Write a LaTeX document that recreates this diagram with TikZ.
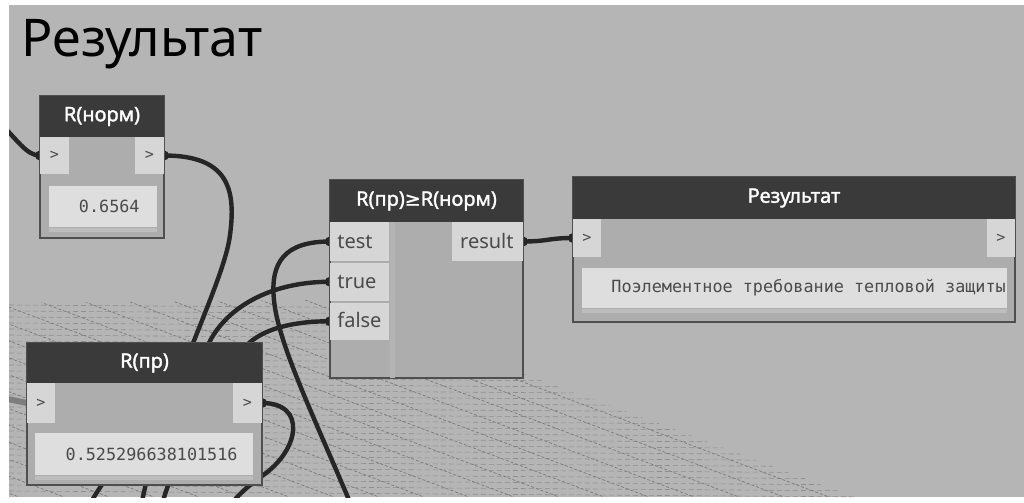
\documentclass[tikz,border=0pt]{standalone}
\usepackage{fontspec}
\usepackage{graphicx}
\setmainfont{Noto Sans}
\newfontfamily\headfont[FakeBold=1.6]{Noto Sans}
\newfontfamily\headsym[FakeBold=1.2]{DejaVu Sans}
\newfontfamily\monofont{DejaVu Sans Mono}
\definecolor{canvas}{HTML}{B5B5B5}
\definecolor{bodyfill}{HTML}{ADADAD}
\definecolor{bodyedge}{HTML}{4F4F4F}
\definecolor{headfill}{HTML}{3A3A3A}
\definecolor{portfill}{HTML}{D6D6D6}
\definecolor{valfill}{HTML}{DEDEDE}
\definecolor{stripfill}{HTML}{BDBDBD}
\definecolor{sepfill}{HTML}{B4B4B4}
\definecolor{wirecol}{HTML}{262626}
\definecolor{greywire}{HTML}{7E7E7E}
\definecolor{labelcol}{HTML}{4A4A4A}
\definecolor{gridcol}{HTML}{8E8E8E}
\pgfdeclarelayer{ground}
\pgfdeclarelayer{wires}
\pgfsetlayers{ground,wires,main}

\begin{document}
\begin{tikzpicture}[x=0.5pt,y=-0.5pt,
  box/.style={anchor=north west, inner sep=0pt, outer sep=0pt},
  body/.style={box, draw=bodyedge, line width=0.6pt, fill=bodyfill},
  head/.style={box, fill=headfill},
  port/.style={box, fill=portfill},
  valbox/.style={box, fill=valfill},
  headtext/.style={text=white, font=\headfont\fontsize{10pt}{12pt}\selectfont, inner sep=0pt},
  plabel/.style={text=labelcol, font=\fontsize{10pt}{12pt}\selectfont, inner sep=0pt},
  arrowmark/.style={text=labelcol, font=\monofont\fontsize{7.5pt}{9pt}\selectfont, inner sep=0pt},
  valtext/.style={text=labelcol, font=\monofont\fontsize{8.4pt}{10pt}\selectfont, inner sep=0pt},
  wire/.style={draw=wirecol, line width=2.2pt},
  blob/.style={fill=wirecol},
  rowline/.style={draw=gridcol, line width=0.3pt, dash pattern=on 2.5pt off 1.5pt},
  colline/.style={draw=gridcol!85!black, line width=0.35pt, dash pattern=on 1.5pt off 1pt},
]
\useasboundingbox (0,0) rectangle (1024,503);

% canvas and the perspective ground grid of the 3D background
\begin{pgfonlayer}{ground}
  \fill[white] (0,0) rectangle (1024,503);
  \fill[canvas] (9,5) rectangle (1024,497);
  \begin{scope}
    \clip (9,303) -- (330,300) -- (854,497) -- (9,497) -- cycle;
    \foreach \yy in {305,311,...,496}
      \draw[rowline] (9,\yy) -- (880,\yy+6);
    \foreach \xx in {-640,-595,...,330}
      \draw[colline] (\xx,300) -- ++(524,197);
  \end{scope}
\end{pgfonlayer}

% ---- R(норм) ----
\node[body, minimum width=62pt, minimum height=71pt] (rn) at (40,96) {};
\node[head, minimum width=62pt, minimum height=20.5pt] (rn-head) at (40,96) {};
\node[headtext] (rn-title) at (rn-head.center) {R(норм)};
\node[port, minimum width=14.5pt, minimum height=18.5pt] (rn-in) at (40,137) {};
\node[arrowmark] (rn-in-m) at (rn-in.center) {>};
\node[port, minimum width=14.5pt, minimum height=18.5pt] (rn-out) at (135,137) {};
\node[arrowmark] (rn-out-m) at (rn-out.center) {>};
\node[valbox, minimum width=54pt, minimum height=20.5pt] (rn-val) at (49,186) {};
\fill[stripfill] (49,228) rectangle (157,232);
\node[valtext, anchor=east] (rn-valtext) at ([xshift=-8.5pt]rn-val.east) {0.6564};

% ---- R(пр) ----
\node[body, minimum width=117.5pt, minimum height=71pt] (rp) at (27,343) {};
\node[head, minimum width=117.5pt, minimum height=20pt] (rp-head) at (27,343) {};
\node[headtext] (rp-title) at (rp-head.center) {R(пр)};
\node[port, minimum width=14pt, minimum height=20pt] (rp-in) at (27,383) {};
\node[arrowmark] (rp-in-m) at (rp-in.center) {>};
\node[port, minimum width=14.5pt, minimum height=20pt] (rp-out) at (233,383) {};
\node[arrowmark] (rp-out-m) at (rp-out.center) {>};
\node[valbox, minimum width=109pt, minimum height=21pt] (rp-val) at (35,433) {};
\fill[stripfill] (35,476) rectangle (253,480);
\node[valtext, anchor=east] (rp-valtext) at ([xshift=-7.5pt]rp-val.east) {0.525296638101516};

% ---- R(пр)≥R(норм) ----
\node[body, minimum width=96.5pt, minimum height=99pt] (cmp) at (330,180) {};
\fill[sepfill] (390,222) rectangle (395,377.5);
\node[head, minimum width=96.5pt, minimum height=21pt] (cmp-head) at (330,180) {};
\node[headtext] (cmp-title) at (cmp-head.center) {R(пр){\headsym\fontsize{9.5pt}{12pt}\selectfont ≥}R(норм)};
\node[port, minimum width=29.5pt, minimum height=19.5pt] (cmp-test) at (330,222) {};
\node[port, minimum width=29.5pt, minimum height=19.25pt] (cmp-true) at (330,262.5) {};
\node[port, minimum width=29.5pt, minimum height=18.75pt] (cmp-false) at (330,302.5) {};
\node[port, minimum width=35.5pt, minimum height=19.5pt] (cmp-res) at (452,222) {};
\node[plabel, anchor=base west] (lbl-test) at (337,248) {test};
\node[plabel, anchor=base west] (lbl-true) at (337,288) {true};
\node[plabel, anchor=base west] (lbl-false) at (337,327) {false};
\node[plabel, anchor=base east] (lbl-result) at (514,248) {result};

% ---- Результат ----
\node[body, minimum width=221pt, minimum height=72.5pt] (res) at (573,177) {};
\node[head, minimum width=221pt, minimum height=21pt] (res-head) at (573,177) {};
\node[headtext] (res-title) at (res-head.center) {Результат};
\node[port, minimum width=14pt, minimum height=19pt] (res-in) at (573,219) {};
\node[arrowmark] (res-in-m) at (res-in.center) {>};
\node[port, minimum width=14pt, minimum height=19pt] (res-out) at (987,219) {};
\node[arrowmark] (res-out-m) at (res-out.center) {>};
\node[valbox, minimum width=212.5pt, minimum height=20pt] (res-val) at (582,268) {};
\fill[stripfill] (582,309) rectangle (1007,313);
\node[valtext, anchor=west] (res-valtext) at (611,288) {Поэлементное требование тепловой защиты};

% sheet title
\node[anchor=base west, inner sep=0pt, font=\fontsize{26pt}{30pt}\selectfont] (sheet-title) at (21,56) {Результат};

% ---- wires, behind the nodes ----
\coordinate (w1s) at (-5,118);
\coordinate (w2m) at (230,235);
\coordinate (w2e) at (140,512);
\coordinate (w3m) at (274,300);
\coordinate (w3e) at (354,512);
\coordinate (w4m) at (208,345);
\coordinate (w4e) at (86,512);
\coordinate (w5m) at (247,345);
\coordinate (w5e) at (160,512);
\coordinate (w6m) at (262,476);
\coordinate (w6e) at (226,512);
\coordinate (w8s) at (-5,397);

\begin{pgfonlayer}{wires}
  \begin{scope}
    \clip (9,5) rectangle (1024,497);
    \draw[greywire, line width=3pt] (w8s) .. controls (8,399) .. (rp-in.west);
    \draw[wire] (w1s) .. controls (18,140) and (26,155.5) .. (rn-in.west);
    \draw[wire] (rn-out.east) .. controls +(65,0) and (236,190) .. (w2m)
                .. controls (224,285) and (160,400) .. (w2e);
    \draw[wire] (cmp-test.west) .. controls +(-45,0) and (270,262) .. (w3m)
                .. controls (278,345) and (318,425) .. (w3e);
    \draw[wire] (cmp-true.west) .. controls +(-60,0) and (225,308) .. (w4m)
                .. controls (190,385) and (110,460) .. (w4e);
    \draw[wire] (cmp-false.west) .. controls +(-40,0) and (262,330) .. (w5m)
                .. controls (225,370) and (175,450) .. (w5e);
    \draw[wire] (rp-out.east) .. controls +(45,0) and (300,450) .. (w6m)
                .. controls (250,485) and (236,495) .. (w6e);
    \draw[wire] (cmp-res.east) .. controls +(25,0) and +(-25,0) .. (res-in.west);
    \foreach \p in {rn-in.west, rn-out.east, cmp-test.west, cmp-true.west,
                    cmp-false.west, cmp-res.east, res-in.west, rp-out.east}
      \fill[blob] (\p) circle (5);
  \end{scope}
\end{pgfonlayer}
\end{tikzpicture}
\end{document}
